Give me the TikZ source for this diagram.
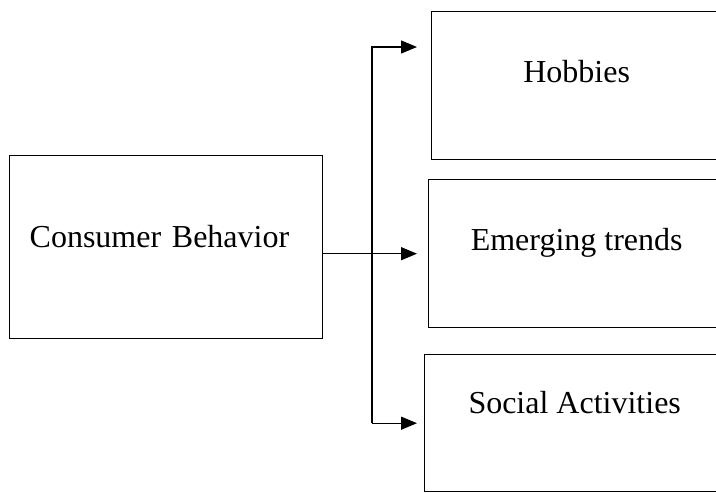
\documentclass[tikz,border=0pt]{standalone}
\usepackage{fontspec}
\setmainfont{Liberation Serif}
\usetikzlibrary{arrows.meta}
\tikzset{box/.style={draw, line width=1.4pt, inner ysep=0pt, anchor=north west,
                     font=\fontsize{32}{38}\selectfont},
         wire/.style={line width=1.4pt},
         arr/.style={wire, -{Triangle[length=16pt,width=13pt]}}}

\begin{document}
\begin{tikzpicture}[x=1pt,y=-1pt]
        \clip (0,0) rectangle (716,493);
        \node[box, text width=273pt, inner xsep=20pt, align=left,
              text height=92pt, text depth=91pt] (cons) at (9,155) {Consumer Behavior};
        \node[box, minimum width=290pt, text height=71pt, text depth=77pt] (hob) at (431,11) {Hobbies};
        \node[box, minimum width=296pt, text height=71pt, text depth=77pt] (emg) at (428,179) {Emerging trends};
        \node[box, minimum width=300pt, text height=59pt, text depth=78pt] (soc) at (424,354) {Social Activities};
        \coordinate (split) at (372,0);
        \coordinate (reach) at (417,0);
        \coordinate (up) at ([yshift=-36pt]hob.north west);
        \draw[arr] (cons.east |- emg.west) -- (reach |- emg.west);
        \draw[arr] (split |- soc.west) -- (split |- up) -- (reach |- up);
        \draw[arr] (split |- soc.west) -- (reach |- soc.west);
\end{tikzpicture}
\end{document}
